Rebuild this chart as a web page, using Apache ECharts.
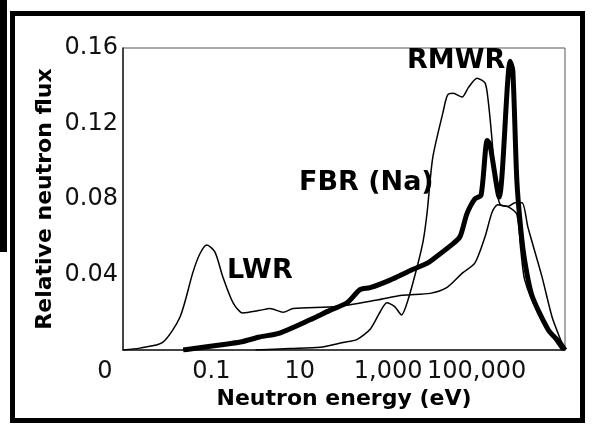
<meta name="viewport" content="width=device-width, initial-scale=1.0">
<script src="https://cdn.jsdelivr.net/npm/echarts@6.0.0/dist/echarts.min.js"></script>
<style>
  html, body { margin:0; padding:0; background:#fff; }
  #chart { width:592px; height:425px; }
</style>
<body>
<div id="chart"></div>
<script>

// neutron energy (eV) / relative flux
var lwrEnergy = [0.001, 0.0024, 0.0079, 0.0195, 0.038, 0.055, 0.079, 0.12, 0.18, 0.31, 0.51, 1.26, 2.1, 4.2, 7.1, 69, 560, 2100, 8900, 21000, 49000, 91000, 155000, 224000, 300000, 510000, 740000, 1.07e6, 1.45e6, 3.0e6, 5.1e6, 8.5e6, 1e7];
var lwrFlux   = [0, 0.001, 0.004, 0.0175, 0.041, 0.051, 0.0556, 0.052, 0.039, 0.025, 0.0196, 0.021, 0.022, 0.020, 0.022, 0.023, 0.0265, 0.029, 0.030, 0.033, 0.041, 0.046, 0.060, 0.073, 0.077, 0.076, 0.078, 0.078, 0.065, 0.039, 0.0175, 0.0037, 0];

var fbrEnergy = [1, 6, 29, 95, 195, 390, 650, 930, 1400, 2000, 2800, 4500, 6200, 7600, 10200, 17400, 22000, 29500, 47000, 65000, 102000, 155000, 182000, 224000, 263000, 340000, 510000, 810000, 1.0e6, 1.23e6, 2.45e6, 5.9e6, 8.5e6];
var fbrFlux   = [0, 0.0008, 0.0015, 0.004, 0.0055, 0.011, 0.020, 0.025, 0.023, 0.0186, 0.0265, 0.044, 0.058, 0.073, 0.102, 0.126, 0.135, 0.136, 0.134, 0.139, 0.144, 0.1415, 0.1325, 0.111, 0.090, 0.077, 0.076, 0.072, 0.053, 0.037, 0.0196, 0.0053, 0];

var rmwrEnergy = [0.023, 0.155, 0.45, 1.23, 3.5, 17, 48, 117, 230, 390, 1100, 3100, 7600, 10200, 25000, 42000, 60000, 91000, 126000, 174000, 200000, 324000, 575000, 660000, 813000, 1.0e6, 1.23e6, 1.78e6, 4.2e6, 7.8e6, 1e7];
var rmwrFlux   = [0, 0.0027, 0.0042, 0.0069, 0.009, 0.016, 0.021, 0.025, 0.032, 0.033, 0.037, 0.042, 0.046, 0.048, 0.055, 0.060, 0.072, 0.080, 0.082, 0.111, 0.109, 0.081, 0.153, 0.148, 0.090, 0.064, 0.047, 0.029, 0.0106, 0.0037, 0];

var xTickExp  = [-3, -1, 1, 3, 5, 7];
var xTickText = ['0', '0.1', '10', '1,000', '100,000', ''];
var yTickText = ['', '0.04', '0.08', '0.12', '0.16'];

var seriesNames = ['LWR', 'FBR (Na)', 'RMWR'];

function pairs(xs, ys){
	var out = [], i;
	for(i = 0; i < xs.length; ++i) out.push([xs[i], ys[i]]);
	return out;
}

var tickFont = '"DejaVu Sans", sans-serif';
var boldFont = 'bold 27px "DejaVu Sans", sans-serif';

var chart = echarts.init(document.getElementById('chart'), null, { renderer: 'canvas' });

var option = {
	animation: false,
	backgroundColor: '#fff',
	grid: { left: 123, right: 27, top: 48, bottom: 75, show: true, borderColor: '#555', borderWidth: 1,
	        containLabel: false, outerBoundsMode: 'none' },
	xAxis: {
		type: 'log', logBase: 10, min: 0.001, max: 1e7, interval: 2,
		name: 'Neutron energy (eV)', nameLocation: 'middle', nameGap: 26, nameMoveOverlap: false,
		nameTextStyle: { fontFamily: tickFont, fontWeight: 'bold', fontSize: 22, color: '#000' },
		axisLine: { lineStyle: { color: '#222', width: 1.5 } },
		axisTick: { show: false },
		splitLine: { show: false },
		minorTick: { show: false },
		axisLabel: {
			margin: -2, fontFamily: tickFont, fontSize: 24, color: '#111', hideOverlap: false,
			showMaxLabel: true, showMinLabel: true,
			formatter: function(v){
				var e = Math.round(Math.log10(v));
				var k = xTickExp.indexOf(e);
				if( k < 0 ) return '';
				if( k == 0 ) return '{zero|' + xTickText[k] + '}';
				return xTickText[k];
			},
			rich: { zero: { fontFamily: tickFont, fontSize: 24, color: '#111', padding: [0, 36, 0, 0] } }
		}
	},
	yAxis: {
		type: 'value', min: 0, max: 0.16, interval: 0.04,
		name: 'Relative neutron flux', nameLocation: 'middle', nameGap: 54, nameMoveOverlap: false,
		nameTextStyle: { fontFamily: tickFont, fontWeight: 'bold', fontSize: 22, color: '#000' },
		axisLine: { show: true, lineStyle: { color: '#222', width: 1.5 } },
		axisTick: { show: false },
		splitLine: { show: false },
		axisLabel: {
			margin: 5, fontFamily: tickFont, fontSize: 24, color: '#111',
			formatter: function(v){ return yTickText[Math.round(v / 0.04)]; }
		}
	},
	series: [
		{ name: seriesNames[0], type: 'line', data: pairs(lwrEnergy, lwrFlux), showSymbol: false, symbol: 'none',
		  smooth: 0.25, lineStyle: { color: '#000', width: 1.5 }, z: 2 },
		{ name: seriesNames[1], type: 'line', data: pairs(fbrEnergy, fbrFlux), showSymbol: false, symbol: 'none',
		  smooth: 0.25, lineStyle: { color: '#000', width: 1.5 }, z: 2 },
		{ name: seriesNames[2], type: 'line', data: pairs(rmwrEnergy, rmwrFlux), showSymbol: false, symbol: 'none',
		  smooth: 0.25, lineStyle: { color: '#000', width: 5 }, z: 3 }
	],
	graphic: [
		{ type: 'rect', shape: { x: 12.5, y: 13.5, width: 570, height: 407 }, style: { fill: 'none', stroke: '#000', lineWidth: 5 } },
		{ type: 'rect', shape: { x: 0, y: 0, width: 7, height: 252 }, style: { fill: '#000' } },
		{ type: 'text', x: 407, y: 61, style: { text: seriesNames[2], font: boldFont, fill: '#000', align: 'left', verticalAlign: 'middle' } },
		{ type: 'text', x: 299, y: 183, style: { text: seriesNames[1], font: boldFont, fill: '#000', align: 'left', verticalAlign: 'middle' } },
		{ type: 'text', x: 227, y: 271, style: { text: seriesNames[0], font: boldFont, fill: '#000', align: 'left', verticalAlign: 'middle' } }
	]
};

chart.setOption(option);
</script>
</body>
